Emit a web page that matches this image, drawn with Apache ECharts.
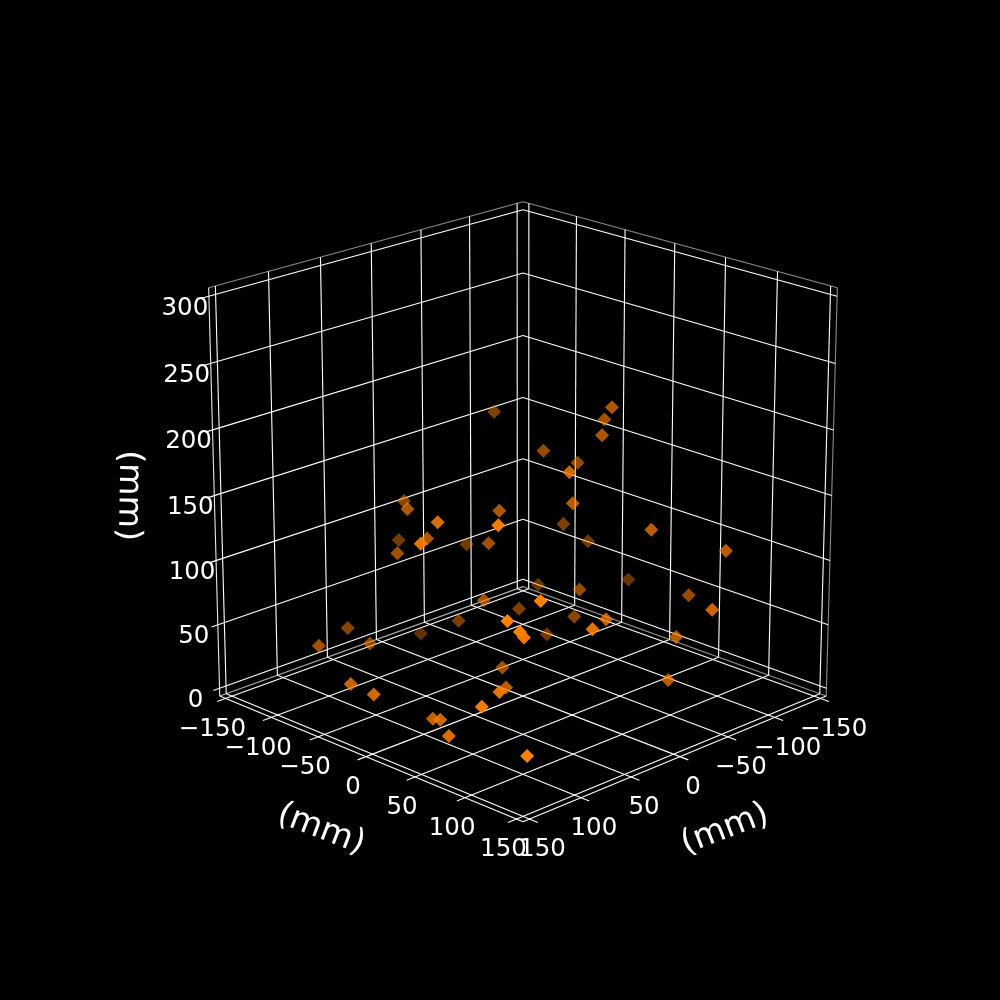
<!DOCTYPE html>
<html><head><meta charset="utf-8">
<style>html,body{margin:0;padding:0;background:#000}#c{width:1000px;height:1000px}</style>
<script src="https://cdn.jsdelivr.net/npm/echarts@6/dist/echarts.min.js"></script>
</head><body><div id="c"></div>
<script>
// Data (mm)
const xValues=[-83,-100,-56,16,-9,73,-123,-67,25,-41,-87,-22,30,15,30,-24,-4,59,40,-27,-24,84,125,-107,-91,-79,-114,-64,-15,106,-35,-27,0,6,88,38,95,20,37,57,-56,19,-9,119,76,150,8,89,123,-29,114,104,115,118,138];
const yValues=[-53,23,61,100,15,97,7,61,125,56,-28,13,-60,-68,-50,-45,-60,13,-10,-69,-92,-45,-79,74,117,78,-6,3,25,121,-31,145,148,27,111,55,135,110,119,130,-72,-39,-120,102,-94,-38,-45,6,55,-54,117,103,-39,-28,134];
const zValues=[181,126,141,160,140,172,85,104,153,121,82,111,210,195,191,167,159,186,152,103,84,134,120,38,41,35,9,36,72,117,44,38,39,26,56,28,54,15,22,19,46,72,50,130,68,93,46,81,97,19,110,99,62,33,30];
const horizontalTicks=[-150,-100,-50,0,50,100,150];
const heightTicks=[0,50,100,150,200,250,300];
const axisTitle='(mm)';

// View: matplotlib-like perspective, elev 20, azim 45
const C=Math.cos(20*Math.PI/180),S=Math.sin(20*Math.PI/180),K=3.373e-4,P=1.397,PV=P*0.995,CX=523,CY=495.6,R2=Math.SQRT2;
function project(x,y,z){
  const d=(x+y)/R2,r=(y-x)/R2,Z=z-150,f=C*d+S*Z,up=-S*d+C*Z,w=1-f*K;
  return {sx:CX-P*r/w,sy:CY-PV*up/w,f};
}
const E=156.25,ZL=-6.25,ZH=306.25,T=8;
const WHITE='#ffffff',GRAY='#8a8a8a',AXIS='#e8e8e8';
const segs=[];
function seg(a,b,col,wd){const p=project(...a),q=project(...b);segs.push([p.sx,p.sy,q.sx,q.sy,col,wd]);}
// pane edges
seg([-E,E,ZH],[-E,-E,ZH],GRAY,1.1);
seg([-E,-E,ZH],[E,-E,ZH],GRAY,1.1);
seg([-E,E,ZL],[-E,-E,ZL],'#b0b0b0',1.1);
seg([-E,-E,ZL],[E,-E,ZL],GRAY,1.1);
seg([E,-E,ZL],[E,-E,ZH],GRAY,1.1);
// grid and tick marks
horizontalTicks.forEach(t=>{
  seg([t,-E,ZL],[t,E+T,ZL],WHITE,1.1);
  seg([-E,t,ZL],[E+T,t,ZL],WHITE,1.1);
  seg([t,-E,ZL],[t,-E,ZH],WHITE,1.1);
  seg([-E,t,ZL],[-E,t,ZH],WHITE,1.1);
});
heightTicks.forEach(t=>{
  seg([-E,E+6,t],[-E,-E,t],WHITE,1.1);
  seg([-E,-E,t],[E,-E,t],WHITE,1.1);
});
// axis lines
seg([-E,E,ZL],[E,E,ZL],WHITE,1.1);
seg([E,-E,ZL],[E,E,ZL],WHITE,1.1);
seg([-E,E,ZL],[-E,E,ZH],AXIS,1.1);

// labels: anchor projected, then a constant offset on screen
const texts=[];
function label(str,p,dx,dy,size,rot){texts.push([p.sx+dx,p.sy+dy,str,size,rot]);}
const fmt=v=>String(v).replace('-','\u2212');
horizontalTicks.forEach(t=>{
  label(fmt(t),project(t,E,ZL),-13,31,24.5,0);
  label(fmt(t),project(E,t,ZL),13,31,24.5,0);
});
heightTicks.forEach(t=>label(fmt(t),project(-E,E,t),-24,12,24.5,0));
label(axisTitle,project(0,E,ZL),-45,73,33.3,-21*Math.PI/180);
label(axisTitle,project(E,0,ZL),45,73,33.3,21*Math.PI/180);
label(axisTitle,project(-E,E,150),-86,0,33.3,-91*Math.PI/180);

// points, back to front, depth shaded
const pts=xValues.map((x,i)=>project(x,yValues[i],zValues[i])).sort((a,b)=>a.f-b.f);
const pointData=pts.map(p=>({value:[p.sx,p.sy],itemStyle:{opacity:Math.max(.36,Math.min(1,.36+.64*(p.f+140)/280))}}));

const chart=echarts.init(document.getElementById('c'),null,{renderer:'canvas',width:1000,height:1000});
chart.setOption({
  backgroundColor:'#000',animation:false,
  grid:{left:0,right:0,top:0,bottom:0,containLabel:false},
  xAxis:{type:'value',min:0,max:1000,show:false},
  yAxis:{type:'value',min:0,max:1000,inverse:true,show:false},
  tooltip:{show:false},
  series:[
    {type:'custom',coordinateSystem:'cartesian2d',silent:true,z:1,data:segs,
     encode:{x:[0,2],y:[1,3]},
     renderItem(params,api){
       const s=segs[params.dataIndex],a=api.coord([s[0],s[1]]),b=api.coord([s[2],s[3]]);
       return {type:'line',shape:{x1:a[0],y1:a[1],x2:b[0],y2:b[1]},style:{stroke:s[4],lineWidth:s[5],fill:null}};
     }},
    {type:'scatter',coordinateSystem:'cartesian2d',silent:true,z:3,symbol:'diamond',symbolSize:14,
     itemStyle:{color:'#ff7f00'},data:pointData},
    {type:'custom',coordinateSystem:'cartesian2d',silent:true,z:4,data:texts.map(t=>[t[0],t[1]]),
     renderItem(params,api){
       const t=texts[params.dataIndex],a=api.coord([t[0],t[1]]);
       return {type:'text',x:a[0],y:a[1],rotation:t[4],style:{text:t[2],x:0,y:0,fill:'#fff',align:'center',verticalAlign:'middle',font:t[3]+'px "DejaVu Sans"'}};
     }}
  ]
});
</script></body></html>
